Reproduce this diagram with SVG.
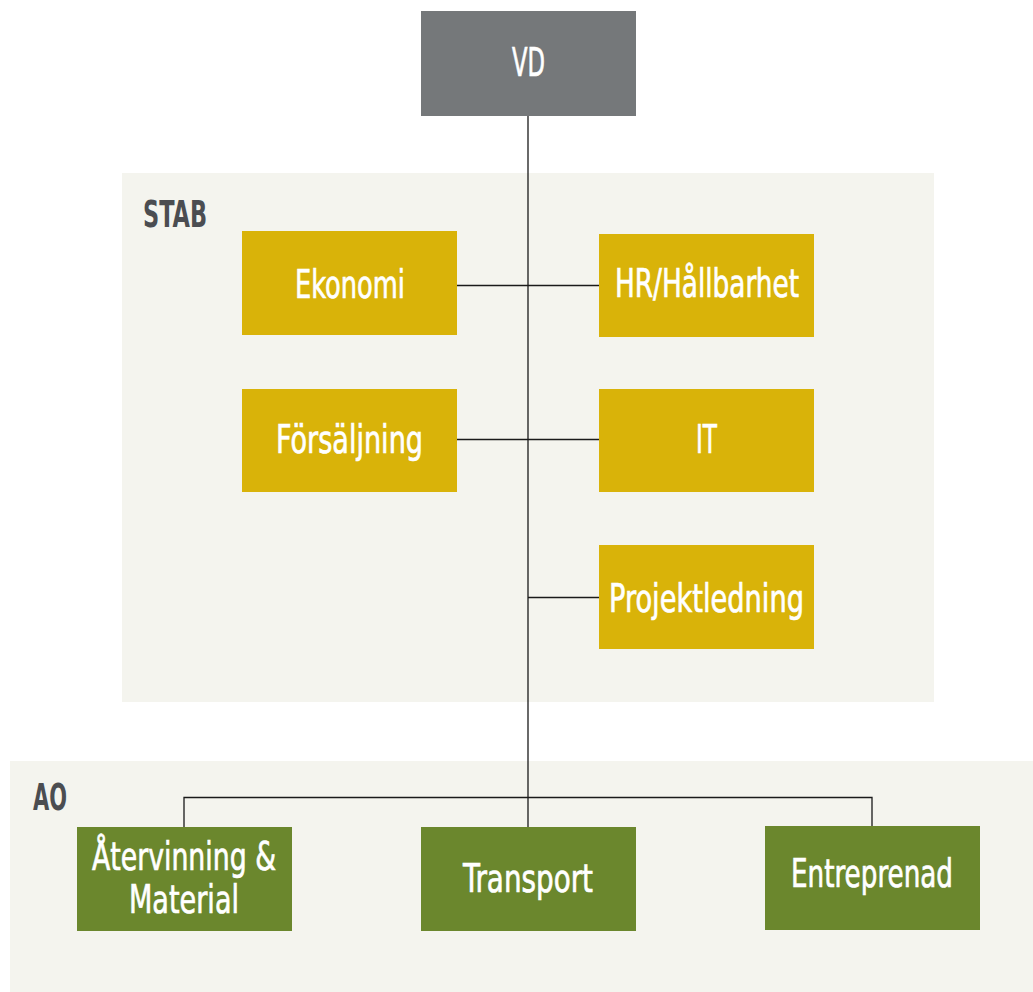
<svg xmlns="http://www.w3.org/2000/svg" width="1033" height="992" viewBox="0 0 1033 992">
<style>
.panel{fill:#f4f4ee}
.plabel{font-family:"DejaVu Sans Condensed","DejaVu Sans",sans-serif;font-size:38px;fill:#4b4d51;font-weight:bold}
.t{font-family:"DejaVu Sans Condensed","DejaVu Sans",sans-serif;font-size:39px;fill:#ffffff;stroke:#ffffff;stroke-width:0.7;text-anchor:middle}
.vd{fill:#75787a}
.stab{fill:#d9b309}
.ao{fill:#6b872d}
.c{stroke:#1a1a1a;stroke-width:1.3;fill:none}
</style>
<rect width="1033" height="992" fill="#ffffff"/>
<g id="panel-stab"><rect class="panel" x="122" y="173" width="812" height="529"/><text class="plabel" x="143" y="227" textLength="64" lengthAdjust="spacingAndGlyphs">STAB</text></g>
<g id="panel-ao"><rect class="panel" x="10" y="761" width="1023" height="231"/><text class="plabel" x="33" y="810" textLength="34" lengthAdjust="spacingAndGlyphs">AO</text></g>
<g id="connectors">
<path class="c" d="M528 116V827"/>
<path class="c" d="M457 285.5H599"/>
<path class="c" d="M457 439.5H599"/>
<path class="c" d="M528 597.5H599"/>
<path class="c" d="M184 827V797.5H872V826"/>
</g>
<g id="vd"><rect class="vd" x="421" y="11" width="215" height="105"/><text class="t" x="528.5" y="76" textLength="33" lengthAdjust="spacingAndGlyphs">VD</text></g>
<g id="ekonomi"><rect class="stab" x="242" y="231" width="215" height="104"/><text class="t" x="350" y="298" textLength="110" lengthAdjust="spacingAndGlyphs">Ekonomi</text></g>
<g id="hr"><rect class="stab" x="599" y="234" width="215" height="103"/><text class="t" x="707" y="297" textLength="184" lengthAdjust="spacingAndGlyphs">HR/Hållbarhet</text></g>
<g id="forsaljning"><rect class="stab" x="242" y="389" width="215" height="103"/><text class="t" x="349.5" y="453" textLength="147" lengthAdjust="spacingAndGlyphs">Försäljning</text></g>
<g id="it"><rect class="stab" x="599" y="389" width="215" height="103"/><text class="t" x="706.5" y="453" textLength="21" lengthAdjust="spacingAndGlyphs">IT</text></g>
<g id="projektledning"><rect class="stab" x="599" y="545" width="215" height="104"/><text class="t" x="706.5" y="612" textLength="195" lengthAdjust="spacingAndGlyphs">Projektledning</text></g>
<g id="atervinning"><rect class="ao" x="77" y="827" width="215" height="104"/><text class="t" x="184" y="870" textLength="184" lengthAdjust="spacingAndGlyphs">Återvinning &amp;</text><text class="t" x="184" y="913" textLength="110" lengthAdjust="spacingAndGlyphs">Material</text></g>
<g id="transport"><rect class="ao" x="421" y="827" width="215" height="104"/><text class="t" x="528" y="892" textLength="130" lengthAdjust="spacingAndGlyphs">Transport</text></g>
<g id="entreprenad"><rect class="ao" x="765" y="826" width="215" height="104"/><text class="t" x="872" y="887" textLength="162" lengthAdjust="spacingAndGlyphs">Entreprenad</text></g>
</svg>
